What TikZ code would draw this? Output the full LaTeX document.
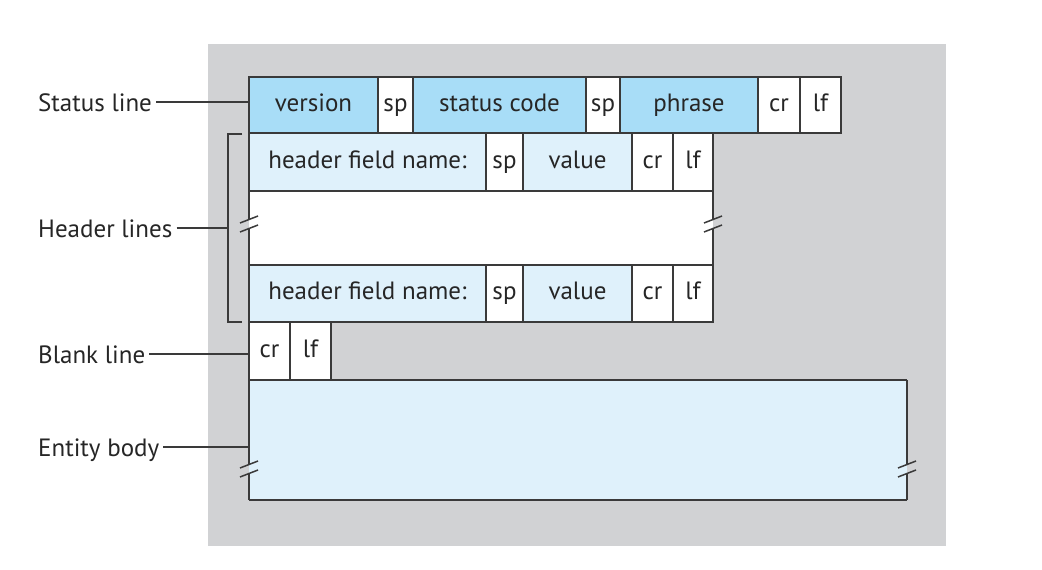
\documentclass[tikz,border=0pt]{standalone}
\usepackage{fontspec}
\setmainfont{PT Sans}
\definecolor{bg}{HTML}{D1D2D4}
\definecolor{blueA}{HTML}{A8DDF7}
\definecolor{blueB}{HTML}{DFF1FB}
\definecolor{ln}{HTML}{3A3A3A}
\definecolor{txt}{HTML}{262626}
\newcommand\brkmark[2]{%
  \draw[ln, line width=1.5pt] (#1-9,#2-1) -- (#1+9,#2-8);
  \draw[ln, line width=1.5pt] (#1-9,#2+8) -- (#1+9,#2+1);
}
\begin{document}
\begin{tikzpicture}[x=1pt,y=-1pt,
  cell/.style={draw=ln, line width=1.5pt, anchor=north west, inner sep=0pt, outer sep=0pt,
    text=txt, text height=18pt, text depth=6pt, font=\fontsize{25}{28}\selectfont},
  cellA/.style={cell, fill=blueA, minimum height=56},
  cellAw/.style={cell, fill=white, minimum height=56},
  cellB/.style={cell, fill=blueB, minimum height=58},
  cellBw/.style={cell, fill=white, minimum height=58},
  lab/.style={anchor=west, inner sep=4pt, text=txt, text height=18pt, text depth=0pt,
    font=\fontsize{25}{28}\selectfont},
  conn/.style={draw=ln, line width=1.5pt}
]
\useasboundingbox (0,0) rectangle (1042,570);
\fill[white] (0,0) rectangle (1042,570);
\fill[bg] (208,44) rectangle (946,546);

% status line
\node[cellA, minimum width=129] (ver) at (249,77) {version};
\node[cellAw, minimum width=35] (sp1) at (ver.north east) {sp};
\node[cellA, minimum width=173] (sc) at (sp1.north east) {status code};
\node[cellAw, minimum width=34] (sp2) at (sc.north east) {sp};
\node[cellA, minimum width=138] (ph) at (sp2.north east) {phrase};
\node[cellAw, minimum width=42] (cr1) at (ph.north east) {cr};
\node[cellAw, minimum width=41] (lf1) at (cr1.north east) {lf};

% blank header section
\fill[white] (249,191) rectangle (713,265);
\draw[conn] (249,191) -- (249,219.5) (249,228.5) -- (249,265);
\draw[conn] (713,191) -- (713,219.5) (713,228.5) -- (713,265);
\brkmark{249}{224}
\brkmark{713}{224}

% header line 1
\node[cellB, minimum width=237] (hn1) at (249,133) {header field name:};
\node[cellBw, minimum width=37] (hs1) at (hn1.north east) {sp};
\node[cellB, minimum width=109] (hv1) at (hs1.north east) {value};
\node[cellBw, minimum width=41] (hc1) at (hv1.north east) {cr};
\node[cellBw, minimum width=40] (hl1) at (hc1.north east) {lf};

% header line 2
\node[cellB, minimum width=237, minimum height=57] (hn2) at (249,265) {header field name:};
\node[cellBw, minimum width=37, minimum height=57] (hs2) at (hn2.north east) {sp};
\node[cellB, minimum width=109, minimum height=57] (hv2) at (hs2.north east) {value};
\node[cellBw, minimum width=41, minimum height=57] (hc2) at (hv2.north east) {cr};
\node[cellBw, minimum width=40, minimum height=57] (hl2) at (hc2.north east) {lf};

% blank line
\node[cellBw, minimum width=41] (bc) at (249,322) {cr};
\node[cellBw, minimum width=41] (bl) at (bc.north east) {lf};

% entity body
\node[fill=blueB, anchor=north west, inner sep=0pt, outer sep=0pt,
  minimum width=658, minimum height=120] (body) at (249,380) {};
\draw[conn] (body.north west) -- (body.north east);
\draw[conn] (body.south west) -- (body.south east);
\draw[conn] (body.north west) -- (249,464.5) (249,473.5) -- (body.south west);
\draw[conn] (body.north east) -- (907,464.5) (907,473.5) -- (body.south east);
\brkmark{249}{469}
\brkmark{907}{469}

% bracket
\coordinate (bk) at (228,228);
\draw[conn] (242,134) -- (228,134) -- (228,322) -- (242,322);

% labels
\node[lab] (l1) at (34,102) {Status line};
\node[lab] (l2) at (34,228) {Header lines};
\node[lab] (l3) at (34,354) {Blank line};
\node[lab] (l4) at (34,447) {Entity body};
\draw[conn] (l1.east) -- (l1.east -| ver.west);
\draw[conn] (l2.east) -- (bk);
\draw[conn] (l3.east) -- (l3.east -| bc.west);
\draw[conn] (l4.east) -- (l4.east -| body.west);
\end{tikzpicture}
\end{document}
